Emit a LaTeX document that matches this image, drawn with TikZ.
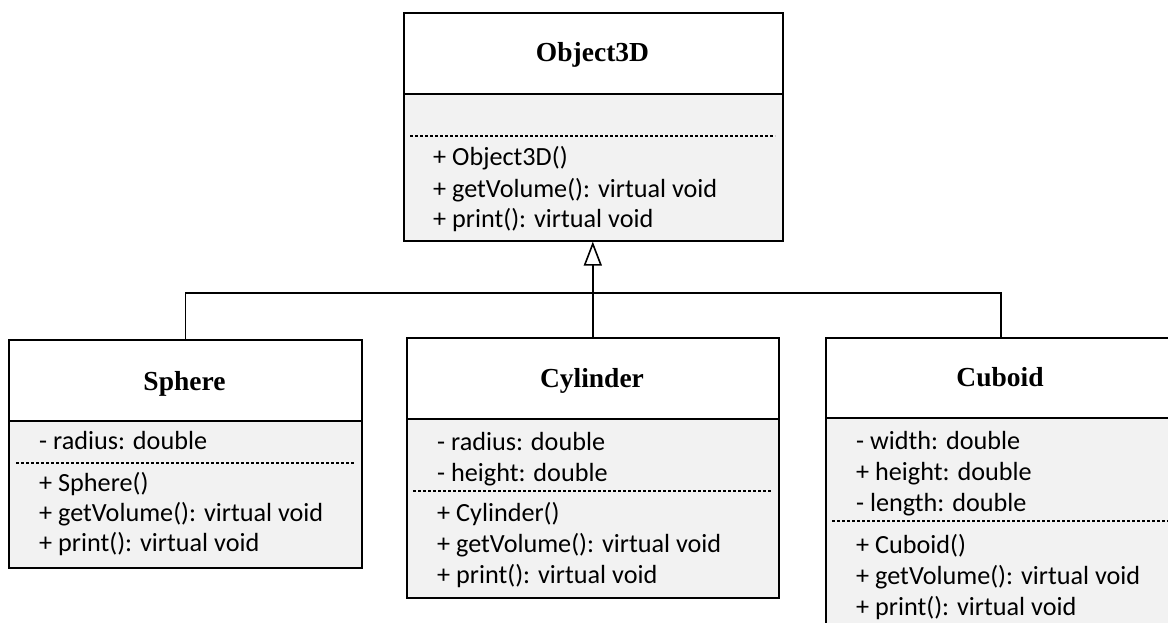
\documentclass[tikz,border=0pt]{standalone}
\usepackage{fontspec}
\setmainfont{Carlito}
\newfontfamily\titlefont{Liberation Serif}
\usetikzlibrary{arrows.meta}
\definecolor{bodygray}{HTML}{F2F2F2}
\begin{document}
\begin{tikzpicture}[x=1pt,y=-1pt,
  hdr/.style={draw, line width=1.6pt, fill=white, anchor=north west, inner sep=0pt},
  bdy/.style={draw, line width=1.6pt, fill=bodygray, anchor=north west, inner sep=0pt},
  ttl/.style={anchor=base, font=\titlefont\bfseries\fontsize{27.5}{32}\selectfont, inner sep=0pt},
  mem/.style={anchor=base west, font=\fontsize{26.2}{30}\selectfont, inner sep=0pt},
  sep/.style={line width=1.2pt, dash pattern=on 3pt off 2pt},
  link/.style={line width=1.6pt}]
\useasboundingbox (0,0) rectangle (1168,623);

% Object3D
\node[bdy, minimum width=379pt, minimum height=147pt] (objb) at (403,93) {};
\node[hdr, minimum width=379pt, minimum height=81pt] (objh) at (403,12) {};
\node[ttl] (objt) at (592.5,62) {Object3D};
\draw[sep] (410,136) -- (775,136);
\node[mem] (objm1) at (433,166) {+ Object3D()};
\node[mem] (objm2) at (433,197) {+ getVolume(): virtual void};
\node[mem] (objm3) at (433,227) {+ print(): virtual void};

% Sphere
\node[bdy, minimum width=353pt, minimum height=147pt] (sphb) at (8,420) {};
\node[hdr, minimum width=353pt, minimum height=81pt] (sphh) at (8,339) {};
\node[ttl] (spht) at (184.5,390) {Sphere};
\node[mem] (spha1) at (39,449) {- radius: double};
\draw[sep] (16,463) -- (354,463);
\node[mem] (sphm1) at (39,491) {+ Sphere()};
\node[mem] (sphm2) at (39,521) {+ getVolume(): virtual void};
\node[mem] (sphm3) at (39,551) {+ print(): virtual void};

% Cylinder
\node[bdy, minimum width=372pt, minimum height=179pt] (cylb) at (406,418) {};
\node[hdr, minimum width=372pt, minimum height=81pt] (cylh) at (406,337) {};
\node[ttl] (cylt) at (592,387) {Cylinder};
\node[mem] (cyla1) at (437,450) {- radius: double};
\node[mem] (cyla2) at (437,481) {- height: double};
\draw[sep] (413,491) -- (771,491);
\node[mem] (cylm1) at (437,521) {+ Cylinder()};
\node[mem] (cylm2) at (437,552) {+ getVolume(): virtual void};
\node[mem] (cylm3) at (437,583) {+ print(): virtual void};

% Cuboid
\node[bdy, minimum width=350pt, minimum height=230pt] (cubb) at (825,417) {};
\node[hdr, minimum width=350pt, minimum height=80pt] (cubh) at (825,337) {};
\node[ttl] (cubt) at (1000,386) {Cuboid};
\node[mem] (cuba1) at (856,449) {- width: double};
\node[mem] (cuba2) at (856,480) {+ height: double};
\node[mem] (cuba3) at (856,511) {- length: double};
\draw[sep] (832,521) -- (1168,521);
\node[mem] (cubm1) at (856,553) {+ Cuboid()};
\node[mem] (cubm2) at (856,584) {+ getVolume(): virtual void};
\node[mem] (cubm3) at (856,615) {+ print(): virtual void};

% connectors
\coordinate (j) at (592,293);
\draw[link] (sphh.north) |- (j) -| (cubh.north);
\draw[link, -{Triangle[open, length=24pt, width=18pt]}] (cylh.north) -- (cylh.north |- objb.south);
\end{tikzpicture}
\end{document}
